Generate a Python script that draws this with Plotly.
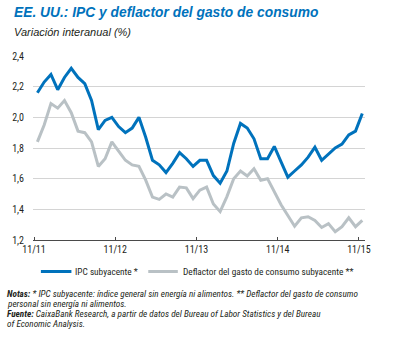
import plotly.graph_objects as go

months = list(range(49))  # monthly index from Nov 2011 to Nov 2015
tick_labels = ["11/11", "11/12", "11/13", "11/14", "11/15"]
tick_pos = [-0.5, 11.5, 23.5, 35.5, 47.5]

ipc_sub = [2.16, 2.23, 2.28, 2.18, 2.26, 2.32, 2.26, 2.22, 2.11, 1.92,
           1.98, 2.00, 1.94, 1.90, 1.93, 2.00, 1.87, 1.72, 1.69, 1.64,
           1.70, 1.77, 1.73, 1.68, 1.72, 1.72, 1.62, 1.57, 1.65, 1.83,
           1.96, 1.93, 1.86, 1.73, 1.73, 1.81, 1.71, 1.61, 1.65, 1.69,
           1.74, 1.805, 1.72, 1.76, 1.80, 1.825, 1.885, 1.91, 2.025]

deflactor = [1.84, 1.95, 2.09, 2.06, 2.11, 2.03, 1.91, 1.90, 1.84, 1.68,
             1.73, 1.84, 1.78, 1.72, 1.69, 1.68, 1.59, 1.48, 1.465, 1.50,
             1.48, 1.545, 1.54, 1.47, 1.525, 1.545, 1.435, 1.385, 1.483, 1.60,
             1.65, 1.617, 1.665, 1.59, 1.60, 1.515, 1.43, 1.36, 1.29, 1.345,
             1.352, 1.328, 1.282, 1.307, 1.254, 1.287, 1.345, 1.287, 1.328]

names = ["IPC subyacente *", "Deflactor del gasto de consumo subyacente **"]
BLUE = "#0072bc"
GRAY = "#b9c1c5"
TXT = "#231f20"
FONT = "Liberation Sans Narrow, Roboto Condensed, Roboto, sans-serif"
TFONT = "Liberation Sans, Arial, sans-serif"

fig = go.Figure()
fig.add_trace(go.Scatter(x=months, y=deflactor, mode="lines", name=names[1],
                         line=dict(color=GRAY, width=3), showlegend=False))
fig.add_trace(go.Scatter(x=months, y=ipc_sub, mode="lines", name=names[0],
                         line=dict(color=BLUE, width=3), showlegend=False))

fig.update_layout(
    width=393, height=338,
    margin=dict(l=28, r=28, t=56, b=98),
    paper_bgcolor="white", plot_bgcolor="white",
    separators=", ",
    font=dict(family=FONT, size=10, color=TXT),
    xaxis=dict(range=[-0.65, 48.4], tickvals=tick_pos, ticktext=tick_labels,
               showgrid=False, zeroline=False, showline=True, linecolor="#4a4a4a",
               linewidth=1, ticks="inside", ticklen=3, tickcolor="#4a4a4a",
               tickfont=dict(size=10, color=TXT)),
    yaxis=dict(range=[1.2, 2.4], dtick=0.2, tickformat=".1f", showgrid=True,
               gridcolor="#d4d4d4", gridwidth=1, zeroline=False, showline=False,
               ticks="", ticklabelstandoff=8, tickfont=dict(size=10, color=TXT)),
)

# Title & subtitle
fig.add_annotation(text="<b><i>EE. UU.: IPC y deflactor del gasto de consumo</i></b>",
                   xref="paper", yref="paper", x=0, y=1, xanchor="left", yanchor="bottom",
                   xshift=-21, yshift=34, showarrow=False,
                   font=dict(family=TFONT, size=13.8, color=BLUE))
fig.add_annotation(text="<i>Variación interanual (%)</i>",
                   xref="paper", yref="paper", x=0, y=1, xanchor="left", yanchor="bottom",
                   xshift=-21, yshift=16, showarrow=False,
                   font=dict(family=TFONT, size=11, color=TXT))

# Manual legend
leg_y = 271.5
for (x0, x1, tx, col, nm) in [(36, 67, 69, BLUE, names[0]), (145, 175, 178, GRAY, names[1])]:
    fig.add_shape(type="line", xref="paper", yref="paper",
                  x0=(x0 - 28) / 337, x1=(x1 - 28) / 337,
                  y0=(240 - leg_y) / 184, y1=(240 - leg_y) / 184,
                  line=dict(color=col, width=3))
    fig.add_annotation(text=nm, xref="paper", yref="paper",
                       x=(tx - 28) / 337, y=(240 - leg_y) / 184,
                       xanchor="left", yanchor="middle", showarrow=False,
                       font=dict(family=FONT, size=9.3, color=TXT))

notes = [
    "<b><i>Notas:</i></b><i> * IPC subyacente: índice general sin energía ni alimentos. ** Deflactor del gasto de consumo</i>",
    "<i>personal sin energía ni alimentos.</i>",
    "<b><i>Fuente:</i></b><i> CaixaBank Research, a partir de datos del Bureau of Labor Statistics y del Bureau</i>",
    "<i>of Economic Analysis.</i>",
]
for k, line in enumerate(notes):
    yy = 293.5 + k * 10
    fig.add_annotation(text=line, xref="paper", yref="paper",
                       x=(0 - 28) / 337, y=(240 - yy) / 184,
                       xanchor="left", yanchor="middle", showarrow=False,
                       font=dict(family=FONT, size=9.2, color=TXT))

fig.write_html("out.html")
